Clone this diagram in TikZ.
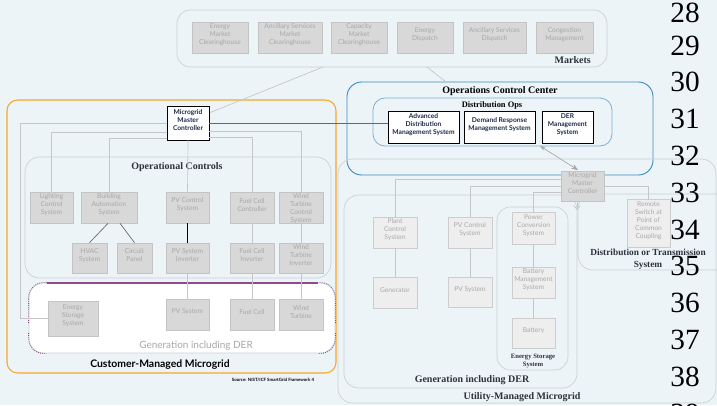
\documentclass[tikz,border=0pt]{standalone}
\usepackage{fontspec}
\setmainfont{Liberation Serif}
\newfontfamily\boxfont{Lato}
\usetikzlibrary{fit,calc,arrows.meta}
\definecolor{bg}{RGB}{236,244,248}
\definecolor{boxfill}{RGB}{216,216,216}
\definecolor{boxedge}{RGB}{196,196,196}
\definecolor{boxtext}{RGB}{168,168,168}
\definecolor{lfill}{RGB}{238,238,238}
\definecolor{ledge}{RGB}{205,205,205}
\definecolor{ltext}{RGB}{170,170,170}
\definecolor{grpedge}{RGB}{204,208,210}
\definecolor{wiregray}{RGB}{196,198,200}
\definecolor{orangeline}{RGB}{247,168,40}
\definecolor{occblue}{RGB}{60,140,195}
\definecolor{opsblue}{RGB}{120,178,215}
\definecolor{purpleline}{RGB}{142,74,138}
\definecolor{redline}{RGB}{180,72,72}
\definecolor{navytext}{RGB}{28,42,74}
\definecolor{lbltext}{RGB}{45,50,58}
\begin{document}
\begin{tikzpicture}[x=0.75pt,y=-0.75pt,
  gbox/.style={draw=boxedge, fill=boxfill, text=boxtext, line width=0.5pt,
    font=\boxfont\fontsize{5}{6}\selectfont, align=center, inner sep=0pt},
  lbox/.style={gbox, draw=ledge, fill=lfill, text=ltext},
  wbox/.style={draw=black, fill=white, text=navytext, line width=0.7pt,
    font=\boxfont\bfseries\fontsize{5}{6}\selectfont, align=center, inner sep=0pt},
  grp/.style={draw=grpedge, line width=0.5pt, rounded corners=10pt, inner sep=0pt},
  wire/.style={draw=wiregray, line width=0.5pt},
  glabel/.style={font=\bfseries\fontsize{7.5}{9}\selectfont, text=lbltext, inner sep=0pt, align=center},
  num/.style={font=\fontsize{22}{24}\selectfont, text=black, inner sep=0pt}]
\useasboundingbox (0,0) rectangle (717,405);
\fill[bg] (0,0) rectangle (717,405);

% ---------- Markets ----------
\node[grp, fit={(177,10)(607,67)}] (markets) {};
\node[gbox, fit={(192,22)(248,53)}] (emc) {Energy\\Market\\Clearinghouse};
\node[gbox, fit={(258,22)(322,53)}] (asmc) {Ancillary Services\\Market\\Clearinghouse};
\node[gbox, fit={(331,22)(387,53)}] (cmc) {Capacity\\Market\\Clearinghouse};
\node[gbox, fit={(397,22)(453,53)}] (ed) {Energy\\Dispatch};
\node[gbox, fit={(463,22)(526,53)}] (asd) {Ancillary Services\\Dispatch};
\node[gbox, fit={(536,22)(593,53)}] (cm) {Congestion\\Management};
\node[glabel, anchor=east] (marketslbl) at (591,60) {Markets};

% ---------- Customer-Managed Microgrid ----------
\node[draw=orangeline, line width=0.8pt, rounded corners=8pt, inner sep=0pt, fit={(7,100)(336,373)}] (cust) {};
\node[font=\boxfont\bfseries\fontsize{7.8}{9}\selectfont, text=black, inner sep=0pt] (custlbl) at (160,365) {Customer-Managed Microgrid};

\node[grp, rounded corners=11pt, fit={(25,157)(331,278)}] (opctl) {};
\node[glabel] (opctllbl) at (177,167) {Operational Controls};

\node[draw=grpedge, fill=white, line width=0.6pt, rounded corners=11pt, inner sep=0pt, fit={(29,283)(335,353)}] (genL) {};
\draw[purpleline, densely dotted, line width=0.6pt, rounded corners=11pt] ($(genL.west)+(0,5)$) |- ($(genL.north west)+(18,0)$);
\draw[purpleline, densely dotted, line width=0.6pt, rounded corners=11pt] ($(genL.east)+(0,5)$) |- ($(genL.north east)+(-17,0)$);
\draw[purpleline, densely dotted, line width=0.6pt, rounded corners=11pt] ($(genL.west)+(0,15)$) |- ($(genL.south west)+(18,0)$);
\draw[purpleline, densely dotted, line width=0.6pt, rounded corners=11pt] ($(genL.east)+(0,15)$) |- ($(genL.south east)+(-17,0)$);
\draw[purpleline, line width=1.4pt] ($(genL.north west)+(18,0)$) -- ($(genL.north east)+(-17,0)$);
\node[font=\boxfont\fontsize{7.5}{9}\selectfont, text=boxtext, inner sep=0pt] (genLlbl) at (196,346) {Generation including DER};

% ---------- Operations Control Center ----------
\node[draw=occblue, line width=0.7pt, rounded corners=11pt, inner sep=0pt, fit={(347,82)(653,175)}] (occ) {};
\node[glabel, text=black] (occlbl) at (500,91) {Operations Control Center};
\node[draw=opsblue, line width=0.6pt, rounded corners=9pt, inner sep=0pt, fit={(373,98)(612,146)}] (dops) {};
\node[glabel, text=black, font=\bfseries\fontsize{6.3}{8}\selectfont] (dopslbl) at (492,105) {Distribution Ops};

% ---------- Utility-Managed Microgrid ----------
\node[grp, rounded corners=11pt, fit={(338,159)(716,403)}] (util) {};
\node[glabel] (utillbl) at (522,397) {Utility-Managed Microgrid};
\node[grp, rounded corners=11pt, fit={(344,195)(577,388)}] (genR) {};
\node[glabel] (genRlbl) at (472,380) {Generation including DER};
\node[grp, rounded corners=10pt, fit={(497,207)(568,370)}] (essR) {};
\node[glabel, font=\bfseries\fontsize{5}{6.5}\selectfont] (essRlbl) at (533,361) {Energy Storage\\System};
\node[grp, rounded corners=11pt, fit={(578,194)(730,270)}] (dist) {};

% ---------- left microgrid ----------
\coordinate (mk1) at (323,67);
\coordinate (mk2) at (427,67);
\coordinate (mmcTip) at (209,113);
\coordinate (occTop) at (446,82);
\draw[wire] (mk1) -- (mmcTip);
\draw[wire] (mk2) -- (occTop);

\node[wbox, fit={(167,106)(209,140)}] (mmcL) {Microgrid\\Master\\Controller};
\node[gbox, fit={(30,192)(73,223)}] (lcs) {Lighting\\Control\\System};
\node[gbox, fit={(81,192)(137,223)}] (bas) {Building\\Automation\\System};
\node[gbox, fit={(166,192)(209,223)}] (pvc) {PV Control\\System};
\node[gbox, fit={(230,192)(274,223)}] (fcc) {Fuel Cell\\Controller};
\node[gbox, fit={(279,192)(323,223)}] (wtc) {};
\node[text=boxtext, font=\boxfont\fontsize{5}{6}\selectfont, align=center, inner sep=0pt] (wtctext) at (301,208.5) {Wind\\Turbine\\Control\\System};
\node[gbox, fit={(72,243)(107,273)}] (hvac) {HVAC\\System};
\node[gbox, fit={(117,243)(152,273)}] (cp) {Circuit\\Panel};
\node[gbox, fit={(166,243)(209,273)}] (pvi) {PV System\\Inverter};
\node[gbox, fit={(230,243)(274,273)}] (fci) {Fuel Cell\\Inverter};
\node[gbox, fit={(279,243)(323,273)}] (wti) {Wind\\Turbine\\Inverter};
\node[gbox, fit={(48,301)(98,336)}] (ess) {Energy\\Storage\\System};
\node[gbox, fit={(166,299)(209,330)}] (pvs) {PV System};
\node[gbox, fit={(230,299)(274,330)}] (fc) {Fuel Cell};
\node[gbox, fit={(279,299)(323,330)}] (wt) {Wind\\Turbine};

\draw[wire] (mmcL.west) -- (20,123) |- (ess.west);
\draw[wire] (167,132) -| (lcs.north);
\draw[wire] (167,138) -| (bas.north);
\draw[wire] (mmcL.south) -- (pvc.north);
\draw[wire] (209,137) -| (fcc.north);
\draw[wire] (fcc.south) -- (fci.north);
\draw[wire] (fci.south) -- (fc.north);
\draw[wire] (209,131) -| (wtc.north);
\draw[wire] (wtc.south) -- (wti.north);
\draw[wire] (wti.south) -- (wt.north);
\draw[black, line width=0.6pt] (pvc.south) -- (pvi.north);
\draw[wire] (pvi.south) -- (pvs.north);
\draw[draw=gray!80!black, line width=0.5pt] ($(bas.south)+(-1,0)$) -- (hvac.north);
\draw[draw=gray!80!black, line width=0.5pt] ($(bas.south)+(11,0)$) -- (cp.north);

% ---------- OCC boxes ----------
\node[wbox, fit={(388,111)(459,143)}] (adms) {Advanced\\Distribution\\Management System};
\node[wbox, fit={(464,111)(535,143)}] (drms) {Demand Response\\Management System};
\node[wbox, fit={(542,111)(593,143)}] (derms) {DER\\Management\\System};
\draw[redline, line width=0.6pt] (mmcL.east) -- (mmcL.east -| adms.west);

% ---------- Utility boxes ----------
\node[gbox, fit={(561,171)(604,201)}] (mmcR) {Microgrid\\Master\\Controller};
\node[lbox, fit={(373,217)(417,248)}] (pcR) {Plant\\Control\\System};
\node[lbox, fit={(448,217)(492,248)}] (pvcR) {PV Control\\System};
\node[lbox, fit={(512,212)(555,244)}] (pcs) {Power\\Conversion\\System};
\node[lbox, fit={(627,199)(670,247)}] (rs) {Remote\\Switch at\\Point of\\Common\\Coupling};
\node[lbox, fit={(373,277)(417,308)}] (gen) {Generator};
\node[lbox, fit={(448,277)(492,307)}] (pvsR) {PV System};
\node[lbox, fit={(512,267)(555,298)}] (bms) {Battery\\Management\\System};
\node[lbox, fit={(512,318)(555,348)}] (bat) {Battery};

\draw[wire] (561,179) -| (pcR.north);
\draw[wire] (561,186) -| (pvcR.north);
\draw[wire] (561,192) -| (pcs.north);
\draw[wire] (604,186) -| (rs.north);
\draw[wire] (pcR.south) -- (gen.north);
\draw[wire] (pvcR.south) -- (pvsR.north);
\draw[wire] (pcs.south) -- (bms.north);
\draw[wire] (bms.south) -- (bat.north);
\coordinate (drmsFoot) at (540,146);
\coordinate (mmcRin) at (578,170);
\draw[draw=gray!70, line width=0.5pt, {Stealth[length=4pt,width=3pt]}-{Stealth[length=5pt,width=4pt]}] (drmsFoot) -- (mmcRin);
\coordinate (mmcRfoot) at (577,201);
\coordinate (mmcRdown) at (577,210);
\draw[wire, -{Straight Barb[length=3pt,width=5pt]}] (mmcRfoot) -- (mmcRdown);

\node[glabel, font=\bfseries\fontsize{7}{9}\selectfont] (distlbl) at (648,259) {Distribution or Transmission\\System};

% ---------- source ----------
\node[font=\boxfont\bfseries\fontsize{3.3}{4}\selectfont, text=black, inner sep=0pt] (src) at (273,380) {Source: NIST/ICF SmartGrid Framework 4};

% ---------- numbers ----------
\node[num] (n28) at (685,13) {28};
\node[num] (n29) at (685,46) {29};
\node[num] (n30) at (685,82) {30};
\node[num] (n31) at (685,119) {31};
\node[num] (n32) at (685,156) {32};
\node[num] (n33) at (685,193) {33};
\node[num] (n34) at (685,230) {34};
\node[num] (n35) at (685,266) {35};
\node[num] (n36) at (685,303) {36};
\node[num] (n37) at (685,340) {37};
\node[num] (n38) at (685,377) {38};
\begin{scope}
\clip (0,0) rectangle (717,405);
\node[num] (n39) at (685,414) {39};
\end{scope}
\end{tikzpicture}
\end{document}
